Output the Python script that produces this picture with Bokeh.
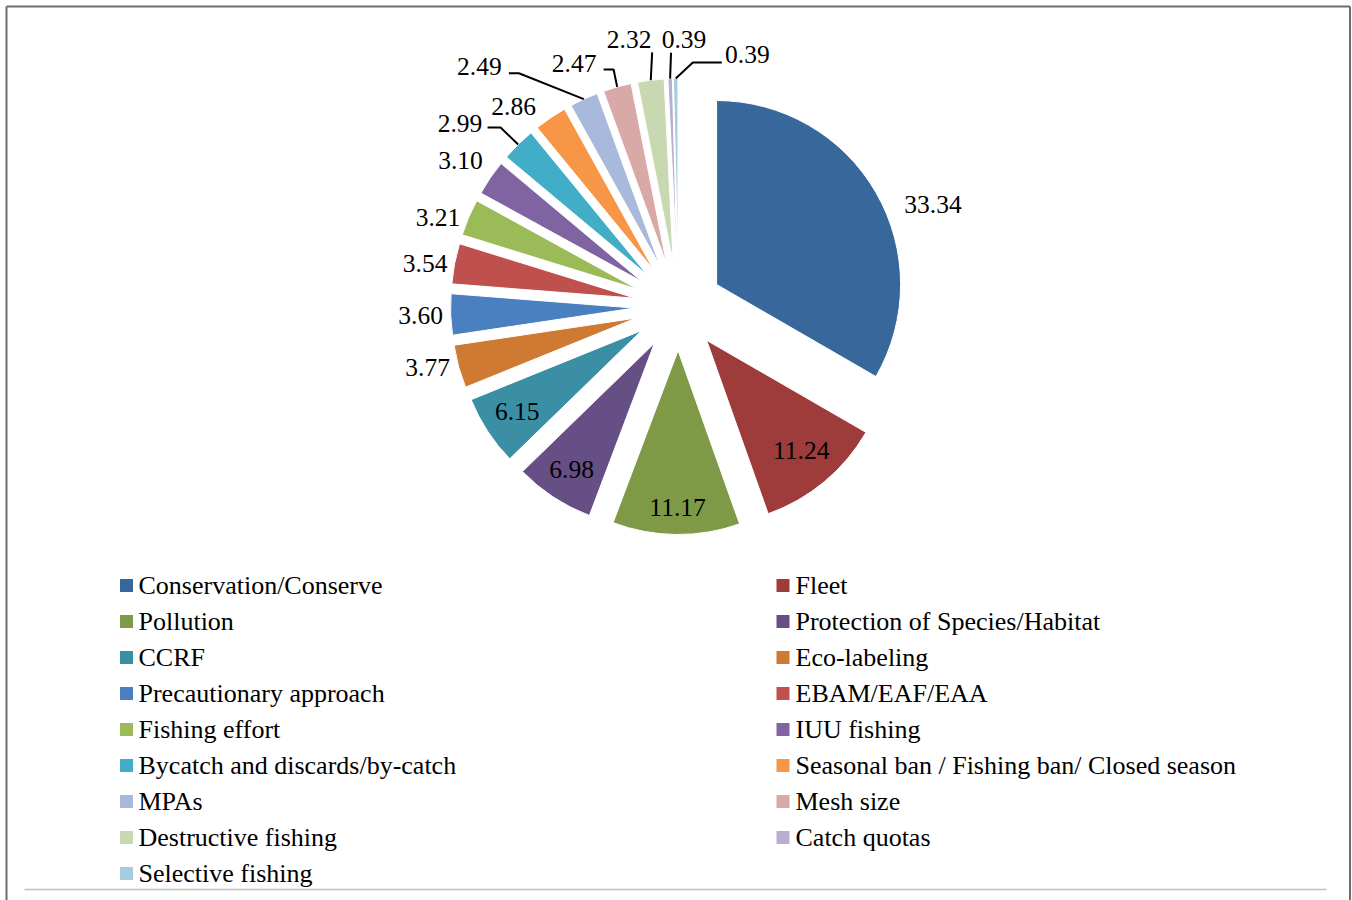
import numpy as np
from bokeh.plotting import figure
from bokeh.models import Range1d, ColumnDataSource
from bokeh.core.properties import value
from bokeh.embed import file_html
from bokeh.resources import INLINE

# ---------------- data ----------------
categories = [
    "Conservation/Conserve", "Fleet", "Pollution", "Protection of Species/Habitat",
    "CCRF", "Eco-labeling", "Precautionary approach", "EBAM/EAF/EAA",
    "Fishing effort", "IUU fishing", "Bycatch and discards/by-catch",
    "Seasonal ban / Fishing ban/ Closed season", "MPAs", "Mesh size",
    "Destructive fishing", "Catch quotas", "Selective fishing",
]
values = [33.34, 11.24, 11.17, 6.98, 6.15, 3.77, 3.60, 3.54, 3.21, 3.10,
          2.99, 2.86, 2.49, 2.47, 2.32, 0.39, 0.39]
labels = ["33.34", "11.24", "11.17", "6.98", "6.15", "3.77", "3.60", "3.54", "3.21",
          "3.10", "2.99", "2.86", "2.49", "2.47", "2.32", "0.39", "0.39"]
colors = ["#37679B", "#9D3C3A", "#7E9A47", "#664F85", "#3A8FA4", "#CF7A33",
          "#4A7FC0", "#C0504D", "#9BBB59", "#8064A2", "#42ADC7", "#F79646",
          "#A9B9DB", "#D9A9A8", "#C8D8B0", "#B9AED0", "#A6CDDE"]

# ---------------- layout (page pixels) ----------------
W, H = 1352, 900
CX, CY = 678, 306          # pie centre (page px)
R = 184                    # radius
EXPLODE = 44               # explosion distance
D_IN, D_OUT = 151, 214     # label distance from exploded apex
label_inside = [False, True, True, True, True] + [False] * 12
label_nudge = [(31, 27), (-2, -6), (1, 6), (0, 0), (2, -2), (-2, -7), (0, 0),
               (0, 6), (-3, 12), (-5, 0), (-37, 0), (-20, 13), (-92, -5),
               (-35, 5), (-18, -11), (15, -9), (72, 6)]
# leader polylines: points relative to label centre (after the arc point)
leaders = {
    10: [(40.5, 4.5), (27.5, 4.5)],
    12: [(39.5, 6.5), (29.5, 6.5)],
    13: [(39.5, 6.5), (29.5, 6.5)],
    14: [(23, 13)],
    15: [(-13, 13)],
    16: [(-54.5, 8), (-25.5, 8)],
}
FONT = "Liberation Serif"
LABEL_FS = 25.5
LEG_FS = 26


def Y(py):
    return H - py


p = figure(width=W, height=H, x_range=Range1d(0, W), y_range=Range1d(0, H),
           output_backend="svg", toolbar_location=None, x_axis_type=None,
           y_axis_type=None, min_border=0)
p.grid.visible = False
p.outline_line_color = None
p.background_fill_color = "white"
p.border_fill_color = "white"

vals = np.array(values)
frac = vals / vals.sum()
cum = np.concatenate([[0], np.cumsum(frac)])
a0, a1 = cum[:-1], cum[1:]
mid = 2 * np.pi * (a0 + a1) / 2
ax = CX + EXPLODE * np.sin(mid)
ay = CY - EXPLODE * np.cos(mid)          # page y of apex

src = ColumnDataSource(dict(
    x=ax, y=Y(ay),
    start=np.pi / 2 - 2 * np.pi * a1,
    end=np.pi / 2 - 2 * np.pi * a0,
    color=colors,
))
p.wedge(x="x", y="y", radius=R, start_angle="start", end_angle="end",
        fill_color="color", line_color="white", line_width=1, source=src)

# labels
lx, ly = [], []
for i in range(len(values)):
    d = D_IN if label_inside[i] else D_OUT
    px = ax[i] + d * np.sin(mid[i]) + label_nudge[i][0]
    py = ay[i] - d * np.cos(mid[i]) + label_nudge[i][1]
    lx.append(px)
    ly.append(py)
p.text(x=lx, y=[Y(v) for v in ly], text=labels, text_align="center",
       text_baseline="middle", text_font=value(FONT),
       text_font_size=f"{LABEL_FS}px", text_color="black")

# leaders
xs, ys = [], []
for i, pts in leaders.items():
    sx = ax[i] + R * np.sin(mid[i])
    sy = ay[i] - R * np.cos(mid[i])
    xx = [sx] + [lx[i] + dx for dx, dy in pts]
    yy = [Y(sy)] + [Y(ly[i] + dy) for dx, dy in pts]
    xs.append(xx)
    ys.append(yy)
p.multi_line(xs=xs, ys=ys, line_color="black", line_width=2)

# legend (two columns, row-major)
LEG_Y0, LEG_DY = 585, 36
SQ_X = [126, 782.5]
TX_X = [138, 795]
sqx, sqy, tx, ty = [], [], [], []
for i, name in enumerate(categories):
    row, col = divmod(i, 2)
    yc = LEG_Y0 + LEG_DY * row
    sqx.append(SQ_X[col])
    sqy.append(Y(yc))
    tx.append(TX_X[col])
    ty.append(Y(yc))
p.scatter(x=sqx, y=sqy, marker="square", size=13, fill_color=colors,
          line_color=None)
p.text(x=tx, y=ty, text=categories, text_align="left", text_baseline="middle",
       text_font=value(FONT), text_font_size=f"{LEG_FS}px", text_color="black")

# frame decorations
p.multi_line(xs=[[6, 6], [6, 1349.5], [1349.5, 1349.5]],
             ys=[[Y(900), Y(6)], [Y(6), Y(6)], [Y(6), Y(900)]],
             line_color="#6D6D6D", line_width=2)
p.line(x=[24, 1326], y=[Y(889), Y(889)], line_color="#BFBFBF", line_width=1.5)

open("out.html", "w").write(file_html(p, INLINE))
